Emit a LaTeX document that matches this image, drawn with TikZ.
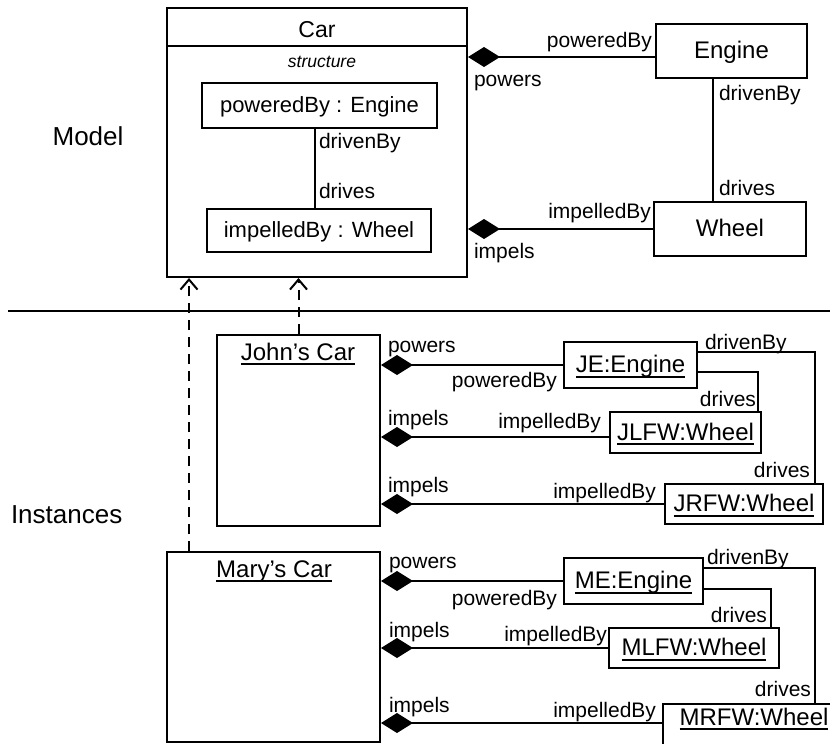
\documentclass[tikz,border=0pt]{standalone}
\usepackage{fontspec}
\setmainfont{Liberation Sans}
\usetikzlibrary{arrows.meta}
% underlined object name with a heavy rule
\newcommand\undl[1]{\setbox0\hbox{#1}\rlap{\copy0}\rule[-5pt]{\wd0}{1.8pt}}
\begin{document}
\begin{tikzpicture}[x=1pt,y=-1pt,line width=2pt,
  box/.style={draw,line width=2pt,inner sep=0pt,text height=17pt,text depth=2pt,
              font=\fontsize{24}{28}\selectfont},
  ibox/.style={box,text height=16pt,font=\fontsize{22}{26}\selectfont},
  frame/.style={draw,line width=2pt,inner sep=0pt},
  lab/.style={inner sep=0pt,font=\fontsize{21}{25}\selectfont},
  head/.style={inner sep=0pt,font=\fontsize{24}{28}\selectfont},
  side/.style={inner sep=0pt,font=\fontsize{26}{30}\selectfont},
  comp/.style={{Diamond[length=32pt,width=20pt]}-},
  realize/.style={dash pattern=on 10pt off 7pt,-{Straight Barb[length=10pt,width=17pt]}}]
\useasboundingbox (0,0) rectangle (830,744);
\clip (0,0) rectangle (830,744);

% ---------------- model ----------------
\node[frame,minimum width=300pt,minimum height=269pt] (car) at (317,142.5) {};
\draw ([yshift=-39pt]car.north west) -- ([yshift=-39pt]car.north east);
\node[head,anchor=base,font=\fontsize{23}{27}\selectfont] (carT) at (317,37) {Car};
\node[anchor=base,inner sep=0pt,font=\fontsize{17.5}{20}\selectfont\itshape] (carS) at (322,67) {structure};

\node[ibox,minimum width=235pt,minimum height=45pt] (pe) at (319.5,105.5) {poweredBy : Engine};
\node[ibox,minimum width=224pt,minimum height=43pt] (iw) at (319,230.5) {impelledBy : Wheel};
\path ([xshift=-4.5pt]pe.south) coordinate (peS);
\draw (peS) -- (peS |- iw.north);
\node[lab,anchor=base west] (pDb) at (318,148) {drivenBy};
\node[lab,anchor=base west] (pDr) at (318,198) {drives};

\node[box,minimum width=151pt,minimum height=54pt] (engine) at (731.5,51) {Engine};
\node[box,minimum width=152pt,minimum height=54pt] (wheel) at (730,229) {Wheel};
\path ([xshift=-18.5pt]engine.south) coordinate (enS);
\draw (enS) -- (enS |- wheel.north);
\node[lab,anchor=base west] (mDb) at (718,100) {drivenBy};
\node[lab,anchor=base west] (mDr) at (718,195) {drives};

\path ([yshift=-6pt]engine.west) coordinate (enW);
\draw[comp] (car.east |- enW) -- (enW);
\node[lab,anchor=base east] (mPb) at (653,47) {poweredBy};
\node[lab,anchor=base west] (mPw) at (473,86) {powers};
\draw[comp] (car.east |- wheel.west) -- (wheel.west);
\node[lab,anchor=base east] (mIb) at (652,218) {impelledBy};
\node[lab,anchor=base west] (mIm) at (473,258) {impels};

\node[side,anchor=base] (model) at (88,145) {Model};

% ---------------- separator ----------------
\coordinate (sepL) at (8,311);
\coordinate (sepR) at (830,311);
\draw (sepL) -- (sepR);
\node[side,anchor=base west] (inst) at (10,523) {Instances};

% ---------------- John's car ----------------
\node[frame,minimum width=163pt,minimum height=191pt] (john) at (298.5,430.5) {};
\node[head,anchor=base] (johnT) at (298,360) {\undl{John’s Car}};
\node[box,minimum width=133pt,minimum height=46pt] (je) at (630.5,365) {\undl{JE:Engine}};
\node[box,minimum width=151pt,minimum height=41pt] (jlfw) at (685.5,432.5) {\undl{JLFW:Wheel}};
\node[box,minimum width=158pt,minimum height=40pt] (jrfw) at (744,504) {\undl{JRFW:Wheel}};

\draw[comp] (john.east |- je.west) -- (je.west);
\node[lab,anchor=base west] (jPw) at (387,352) {powers};
\node[lab,anchor=base east] (jPb) at (558,387) {poweredBy};
\path ([yshift=-4.5pt]jlfw.west) coordinate (jlW);
\draw[comp] (john.east |- jlW) -- (jlW);
\node[lab,anchor=base west] (jIm1) at (387,425) {impels};
\node[lab,anchor=base east] (jIb1) at (602,428) {impelledBy};
\draw[comp] (john.east |- jrfw.west) -- (jrfw.west);
\node[lab,anchor=base west] (jIm2) at (387,492) {impels};
\node[lab,anchor=base east] (jIb2) at (657,498) {impelledBy};

\draw ([yshift=13pt]je.east) -| ([xshift=71pt]jrfw.north);
\node[lab,anchor=base west] (jDb) at (704,349) {drivenBy};
\node[lab,anchor=base east] (jDr2) at (811,477) {drives};
\draw ([yshift=-7pt]je.east) -| ([xshift=72.5pt]jlfw.north);
\node[lab,anchor=base east] (jDr1) at (757,406) {drives};

% ---------------- Mary's car ----------------
\node[frame,minimum width=213pt,minimum height=190pt] (mary) at (273.5,647) {};
\node[head,anchor=base] (maryT) at (274,577) {\undl{Mary’s Car}};
\node[box,minimum width=139pt,minimum height=46pt] (me) at (633.5,581) {\undl{ME:Engine}};
\node[box,minimum width=170pt,minimum height=40pt] (mlfw) at (694,648) {\undl{MLFW:Wheel}};
\node[box,minimum width=182pt,minimum height=48pt,text depth=23pt] (mrfw) at (754,728) {\undl{MRFW:Wheel}};

\draw[comp] (mary.east |- me.west) -- (me.west);
\node[lab,anchor=base west] (mPw2) at (388,568) {powers};
\node[lab,anchor=base east] (mPb2) at (558,605) {poweredBy};
\draw[comp] (mary.east |- mlfw.west) -- (mlfw.west);
\node[lab,anchor=base west] (mIm1) at (388,637) {impels};
\node[lab,anchor=base east] (mIb1) at (608,641) {impelledBy};
\path ([yshift=5pt]mrfw.west) coordinate (mrW);
\draw[comp] (mary.east |- mrW) -- (mrW);
\node[lab,anchor=base west] (mIm2) at (388,712) {impels};
\node[lab,anchor=base east] (mIb2) at (657,717) {impelledBy};

\draw ([yshift=13pt]me.east) -| ([xshift=61pt]mrfw.north);
\node[lab,anchor=base west] (meDb) at (706,564) {drivenBy};
\node[lab,anchor=base east] (meDr2) at (812,696) {drives};
\draw ([yshift=-8pt]me.east) -| ([xshift=77pt]mlfw.north);
\node[lab,anchor=base east] (meDr1) at (768,622) {drives};

% ---------------- instance-of links ----------------
\path ([xshift=-84.5pt]mary.north) coordinate (maryN);
\draw[realize] (maryN) -- (car.south -| maryN);
\draw[realize] (john.north) -- (car.south -| john.north);
\end{tikzpicture}
\end{document}
